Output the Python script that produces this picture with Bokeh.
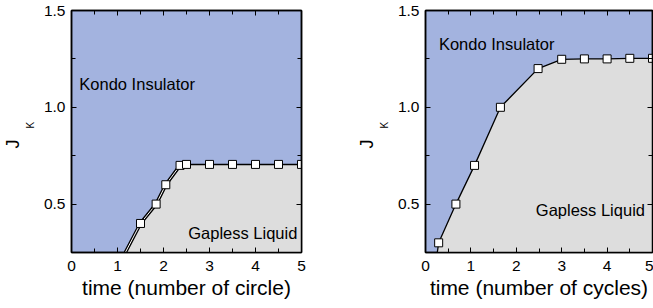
from bokeh.plotting import figure
from bokeh.layouts import row
from bokeh.models import LinearAxis, Label, Range1d, FixedTicker, PrintfTickFormatter, Title
from bokeh.embed import file_html
from bokeh.resources import INLINE

# ---- data ----
x_major = [0, 1, 2, 3, 4, 5]
x_minor = [0.5, 1.5, 2.5, 3.5, 4.5]
y_major = [0.5, 1.0, 1.5]
y_minor = [0.25, 0.75, 1.25]
y_floor = 0.25

# left panel: phase boundary (time in number of circle)
left_line_x = [1.17, 1.5, 1.84, 2.05, 2.36, 2.5, 3.0, 3.5, 4.0, 4.5, 5.0]
left_line_y = [0.25, 0.40, 0.50, 0.60, 0.70, 0.705, 0.705, 0.705, 0.705, 0.705, 0.705]
left_pts_x = [1.5, 1.84, 2.05, 2.36, 2.5, 3.0, 3.5, 4.0, 4.5, 5.0]
left_pts_y = [0.40, 0.50, 0.60, 0.70, 0.705, 0.705, 0.705, 0.705, 0.705, 0.705]

# right panel: phase boundary (time in number of cycles)
right_line_x = [0.26, 0.29, 0.67, 1.08, 1.65, 2.48, 3.0, 3.5, 4.0, 4.5, 5.0]
right_line_y = [0.25, 0.30, 0.50, 0.70, 1.00, 1.20, 1.248, 1.25, 1.25, 1.253, 1.253]
right_pts_x = [0.29, 0.67, 1.08, 1.65, 2.48, 3.0, 3.5, 4.0, 4.5, 5.0]
right_pts_y = [0.30, 0.50, 0.70, 1.00, 1.20, 1.248, 1.25, 1.25, 1.253, 1.253]

BLUE = "#A3B3DF"
GRAY = "#DDDDDD"
FONT = "Liberation Sans"


def style_axis(ax, ticker, show_labels=True):
    ax.ticker = ticker
    ax.axis_line_color = "black"
    ax.axis_line_width = 1.5
    ax.major_tick_line_color = "black"
    ax.minor_tick_line_color = "black"
    ax.major_tick_in = 5
    ax.major_tick_out = 0
    ax.minor_tick_in = 4
    ax.minor_tick_out = 0
    ax.major_label_text_font = FONT
    ax.major_label_text_font_size = "15.5px"
    ax.axis_label_text_font = FONT
    ax.axis_label_text_font_size = "21px"
    ax.axis_label_text_font_style = "normal"
    ax.axis_label_text_color = "black"
    if show_labels:
        ax.major_label_text_color = "black"
    else:
        ax.major_label_standoff = 0
        ax.major_label_overrides = {t: "" for t in ticker.ticks}


def make_panel(lx, ly, px, py, xlabel, w, bl, br, kondo, gapless, double):
    p = figure(width=w, height=304,
               x_range=Range1d(0, 5), y_range=Range1d(0.25, 1.5),
               output_backend="svg", toolbar_location=None,
               min_border_left=bl, min_border_right=br,
               min_border_top=10, min_border_bottom=52)
    p.grid.visible = False
    p.background_fill_color = BLUE
    p.border_fill_color = "white"
    p.outline_line_color = "black"
    p.outline_line_width = 1.5

    style_axis(p.xaxis[0], FixedTicker(ticks=x_major, minor_ticks=x_minor))
    style_axis(p.yaxis[0], FixedTicker(ticks=y_major, minor_ticks=y_minor))
    p.yaxis[0].formatter = PrintfTickFormatter(format="%.1f")
    p.xaxis[0].axis_label = xlabel
    p.xaxis[0].major_label_standoff = 8
    p.xaxis[0].axis_label_standoff = 2
    p.yaxis[0].major_label_standoff = 6

    top = LinearAxis()
    style_axis(top, FixedTicker(ticks=x_major, minor_ticks=x_minor), show_labels=False)
    p.add_layout(top, "above")
    right = LinearAxis()
    style_axis(right, FixedTicker(ticks=y_major, minor_ticks=y_minor), show_labels=False)
    p.add_layout(right, "right")

    # y-axis title J_K: subscript K next to the axis, J outside it
    p.add_layout(Title(text="K", align="left", offset=124, vertical_align="top",
                       standoff=5, text_font=FONT, text_font_size="10px",
                       text_font_style="normal", text_color="black"), "left")
    p.add_layout(Title(text="J", align="left", offset=104, vertical_align="bottom",
                       standoff=0, text_font=FONT, text_font_size="18px",
                       text_font_style="normal", text_color="black"), "left")

    p.varea(x=lx, y1=[y_floor] * len(lx), y2=ly, fill_color=GRAY)
    if double:
        n = double
        p.line(lx[:n], ly[:n], line_color="black", line_width=3.5)
        p.line(lx[:n], ly[:n], line_color="white", line_width=1)
        p.line(lx[n - 1:], ly[n - 1:], line_color="black", line_width=1.5)
    else:
        p.line(lx, ly, line_color="black", line_width=1.3)
    p.scatter(px, py, marker="square", size=8, fill_color="white",
              line_color="black", line_width=1)

    p.add_layout(Label(x=kondo[0], y=kondo[1], text="Kondo Insulator",
                       text_font=FONT, text_font_size="16.5px", text_color="black",
                       text_baseline="alphabetic", text_align="left"))
    p.add_layout(Label(x=gapless[0], y=gapless[1], text="Gapless Liquid",
                       text_font=FONT, text_font_size="16.5px", text_color="black",
                       text_baseline="alphabetic", text_align=gapless[2]))
    return p


p1 = make_panel(left_line_x, left_line_y, left_pts_x, left_pts_y,
                "time (number of circle)", 354, 69, 53,
                (0.17, 1.121), (4.91, 0.352, "right"), 5)
p2 = make_panel(right_line_x, right_line_y, right_pts_x, right_pts_y,
                "time (number of cycles)", 299, 69, 1,
                (0.295, 1.328), (2.43, 0.472, "left"), 0)

p = row(p1, p2)
open("out.html", "w").write(file_html(p, INLINE))
